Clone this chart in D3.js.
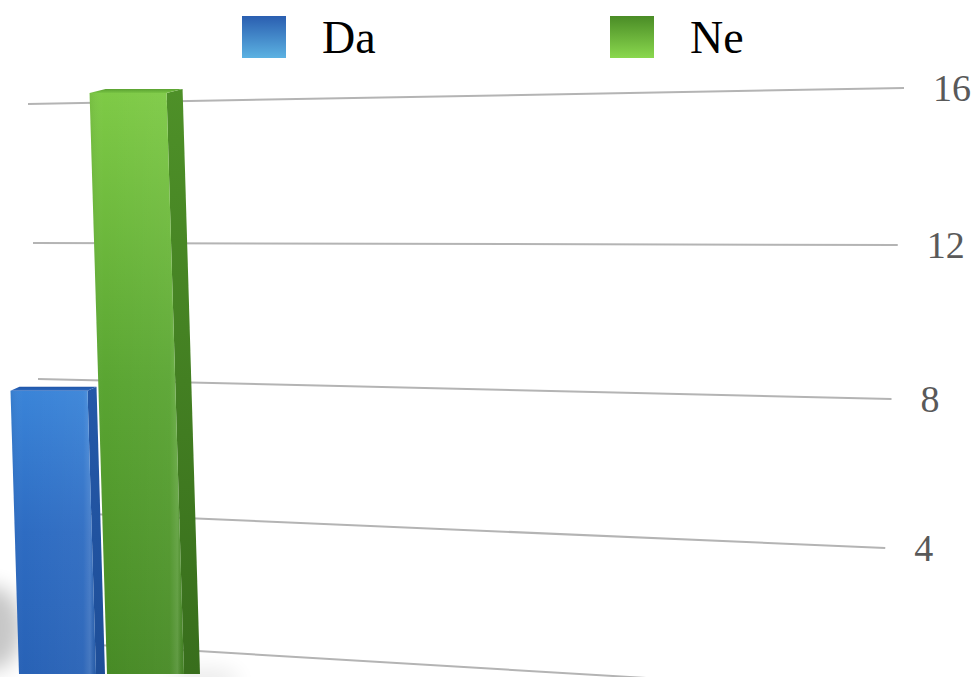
<!DOCTYPE html>
<html><head><meta charset="utf-8">
<script src="https://cdn.jsdelivr.net/npm/d3@7"></script>
<style>
body{margin:0;background:#fff}svg{display:block}
.serif{font-family:"Liberation Serif","Times New Roman","DejaVu Serif","Noto Serif",Times,serif}
</style>
</head><body><svg id="c" width="976" height="677"></svg>
<script>
// ---- data ----
const series = ["Da", "Ne"];
const values = [7.8, 16];
const gridTicks = [0, 4, 8, 12, 16];
const tickLabels = ["4", "8", "12", "16"];

// ---- layout ----
const svg = d3.select("#c");
const defs = svg.append("defs");

// perspective wall scales (left / right ends of each gridline)
const yL = d3.scaleLinear().domain(gridTicks).range([642, 512, 379, 243, 104]);
const yR = d3.scaleLinear().domain(gridTicks).range([692, 548, 399, 245, 88]);
const xL = d3.scaleLinear().domain([0, 16]).range([48, 28]);
const xR = d3.scaleLinear().domain([0, 16]).range([879, 904]);

// bar scales
const yBar = d3.scaleLinear().domain([0, 16]).range([674, 93]);
const xBand = d3.scaleBand().domain(series).range([19, 184]).paddingInner(0.125).paddingOuter(0);
const sideW = d3.scaleLinear().domain([19, 107]).range([9, 16]);
const lean = 0.03;

const pal = {
  Da: {front: ["#3a84d8", "#2e6cc2", "#2862b6"], side: ["#2458a8", "#1e4e98"], top: ["#1f55a8", "#2d69bf"], leg: ["#2a5eb0", "#5cb2e2"]},
  Ne: {front: ["#7eca46", "#5aa532", "#478a25"], side: ["#4e9028", "#386e1c"], top: ["#5aa232", "#78c444"], leg: ["#4a8c26", "#8ad84e"]}
};

// gradients
series.forEach(s => {
  const p = pal[s];
  const gf = defs.append("linearGradient").attr("id", "f" + s).attr("x1", 0).attr("y1", 0).attr("x2", 0).attr("y2", 1);
  gf.append("stop").attr("offset", 0).attr("stop-color", p.front[0]);
  gf.append("stop").attr("offset", 0.5).attr("stop-color", p.front[1]);
  gf.append("stop").attr("offset", 1).attr("stop-color", p.front[2]);
  const gs = defs.append("linearGradient").attr("id", "s" + s).attr("x1", 0).attr("y1", 0).attr("x2", 0).attr("y2", 1);
  gs.append("stop").attr("offset", 0).attr("stop-color", p.side[0]);
  gs.append("stop").attr("offset", 1).attr("stop-color", p.side[1]);
  const gt = defs.append("linearGradient").attr("id", "t" + s).attr("x1", 0).attr("y1", 0).attr("x2", 0).attr("y2", 1);
  gt.append("stop").attr("offset", 0).attr("stop-color", p.top[0]);
  gt.append("stop").attr("offset", 1).attr("stop-color", p.top[1]);
  const gl = defs.append("linearGradient").attr("id", "l" + s).attr("x1", 0).attr("y1", 0).attr("x2", 0).attr("y2", 1);
  gl.append("stop").attr("offset", 0).attr("stop-color", p.leg[0]);
  gl.append("stop").attr("offset", 1).attr("stop-color", p.leg[1]);
});
const hl = defs.append("linearGradient").attr("id", "hl").attr("x1", 0).attr("y1", 0).attr("x2", 1).attr("y2", 0);
[[0, "#000", 0.06], [0.15, "#fff", 0], [0.85, "#fff", 0.04], [0.93, "#fff", 0.14], [1, "#000", 0.08]]
  .forEach(([o, c, a]) => hl.append("stop").attr("offset", o).attr("stop-color", c).attr("stop-opacity", a));
defs.append("filter").attr("id", "blur").attr("x", "-100%").attr("y", "-100%").attr("width", "300%").attr("height", "300%")
  .append("feGaussianBlur").attr("stdDeviation", 10);

// shadows
svg.append("ellipse").attr("cx", -8).attr("cy", 628).attr("rx", 30).attr("ry", 42)
  .attr("fill", "#000").attr("opacity", 0.22).attr("filter", "url(#blur)");
svg.append("ellipse").attr("cx", 205).attr("cy", 680).attr("rx", 35).attr("ry", 12)
  .attr("fill", "#000").attr("opacity", 0.08).attr("filter", "url(#blur)");

// gridlines
svg.append("g").selectAll("line").data(gridTicks).join("line")
  .attr("x1", d => xL(d)).attr("y1", d => yL(d))
  .attr("x2", d => xR(d)).attr("y2", d => yR(d))
  .attr("stroke", "#b4b4b4").attr("stroke-width", 2);

// tick labels
svg.append("g").selectAll("text").data(tickLabels).join("text")
  .attr("class", "serif")
  .attr("x", d => xR(+d) + 29).attr("y", d => yR(+d)).attr("dy", "0.35em")
  .attr("font-size", 38)
  .attr("fill", "#595959").text(d => d);

// bars
const bars = svg.append("g").selectAll("g").data(series.map((s, i) => ({s, v: values[i]}))).join("g");
bars.each(function(d) {
  const g = d3.select(this);
  const x0b = xBand(d.s), bw = xBand.bandwidth(), x1b = x0b + bw;
  const yb = yBar(0), yt = yBar(d.v);
  const sh = (yb - yt) * lean;
  const x0t = x0b - sh, x1t = x1b - sh;
  const sw = sideW(x0b), up = 4;
  const pt = a => a.map(p => p.join(",")).join(" ");
  g.append("polygon").attr("points", pt([[x1t, yt], [x1t + sw, yt - up], [x1b + sw, yb], [x1b, yb]]))
    .attr("fill", `url(#s${d.s})`);
  g.append("polygon").attr("points", pt([[x0t, yt], [x1t, yt], [x1b, yb], [x0b, yb]]))
    .attr("fill", `url(#f${d.s})`);
  g.append("polygon").attr("points", pt([[x0t, yt], [x1t, yt], [x1b, yb], [x0b, yb]]))
    .attr("fill", "url(#hl)");
  g.append("polygon").attr("points", pt([[x0t, yt], [x1t, yt], [x1t + sw, yt - up], [x0t + sw, yt - up]]))
    .attr("fill", `url(#t${d.s})`);
});

// legend
const legX = d3.scaleBand().domain(series).range([242, 978]);
const leg = svg.append("g").selectAll("g").data(series).join("g")
  .attr("transform", d => `translate(${legX(d)},16)`);
leg.append("rect").attr("width", 44).attr("height", 42).attr("fill", d => `url(#l${d})`);
leg.append("text").attr("class", "serif").attr("x", 80).attr("y", 37)
  .attr("font-size", 46)
  .attr("fill", "#000").text(d => d);
</script></body></html>
